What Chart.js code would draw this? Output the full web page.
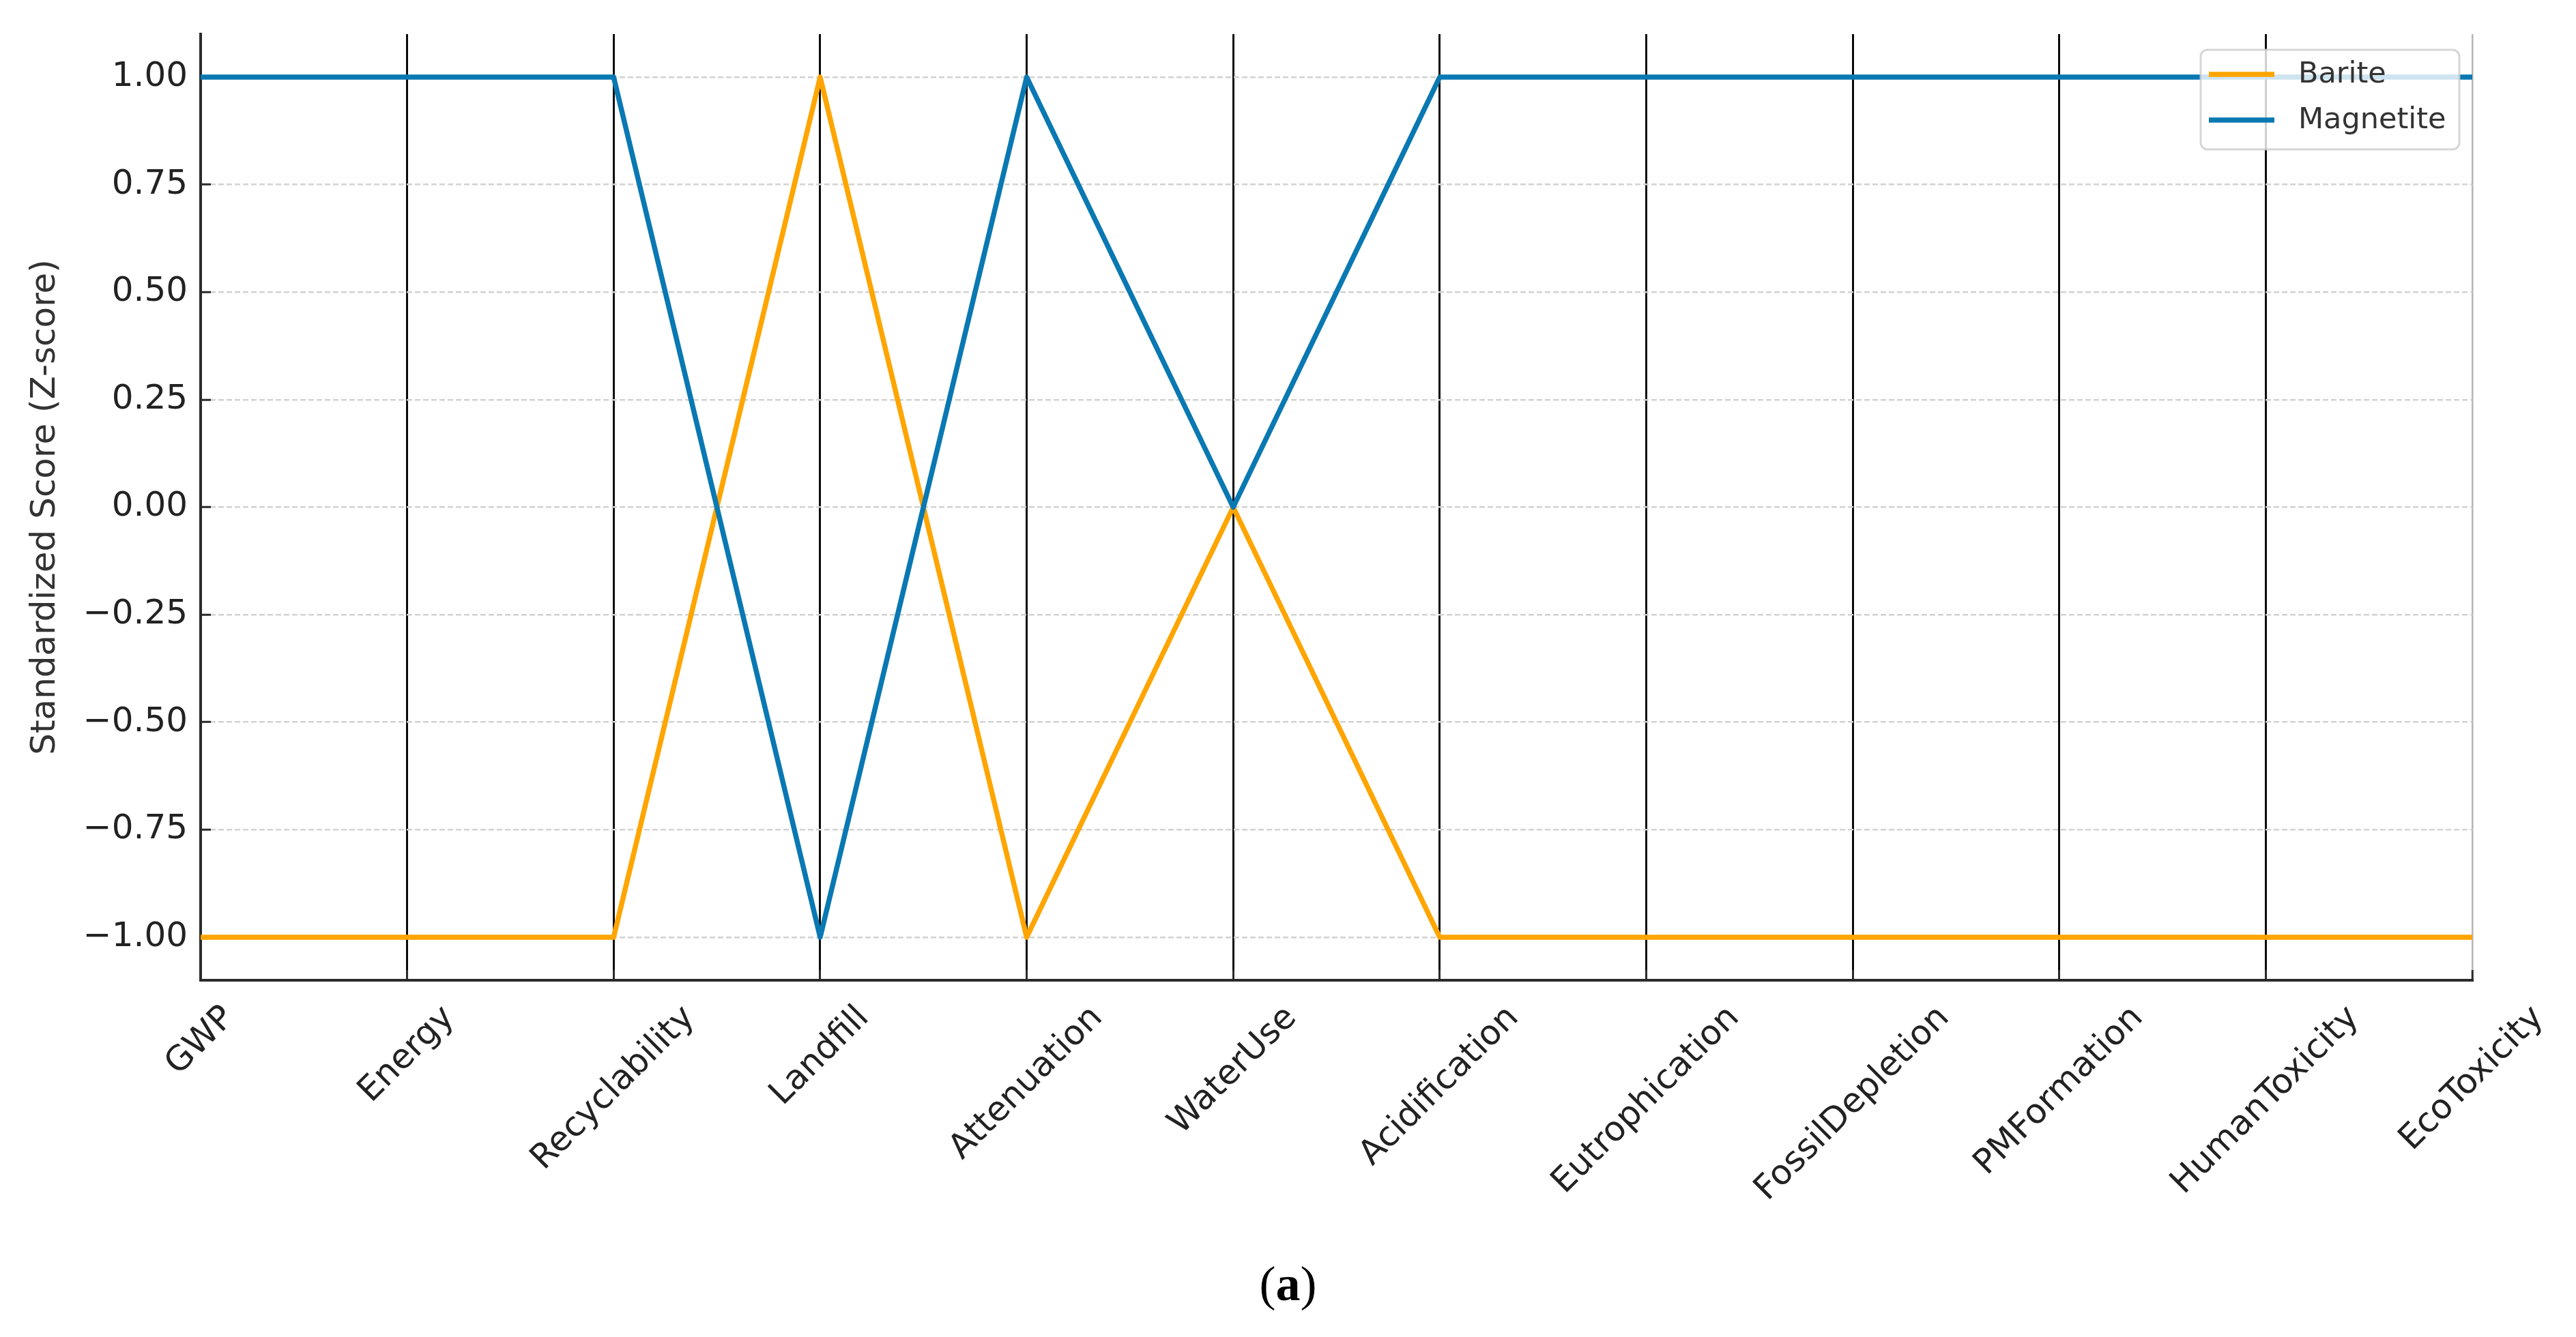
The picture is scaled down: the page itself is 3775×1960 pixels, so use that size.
<!DOCTYPE html>
<html>
<head>
<meta charset="utf-8">
<script src="https://cdn.jsdelivr.net/npm/chart.js@4.4.1/dist/chart.umd.min.js"></script>
<style>
  html, body { margin: 0; padding: 0; background: #fff; }
  #wrap { position: relative; width: 3775px; height: 1960px; }
  #chart { position: absolute; left: 0; top: 0; }
  #caption {
    position: absolute; left: 0; top: 1846px; width: 3775px;
    text-align: center; font-family: 'Liberation Serif', serif;
    font-size: 72px; line-height: 72px; color: #000;
  }
</style>
</head>
<body>
<div id="wrap">
  <canvas id="chart" width="3775" height="1960"></canvas>
  <div id="caption">(<b>a</b>)</div>
</div>
<script>
// ── Data ───────────────────────────────────────────────────────────────────
const CATEGORIES = [
  'GWP', 'Energy', 'Recyclability', 'Landfill', 'Attenuation', 'WaterUse',
  'Acidification', 'Eutrophication', 'FossilDepletion', 'PMFormation',
  'HumanToxicity', 'EcoToxicity',
];
const BARITE    = [-1, -1, -1,  1, -1, 0, -1, -1, -1, -1, -1, -1];
const MAGNETITE = [ 1,  1,  1, -1,  1, 0,  1,  1,  1,  1,  1,  1];
const Y_TICKS   = [-1, -0.75, -0.5, -0.25, 0, 0.25, 0.5, 0.75, 1];
const Y_MIN = -1.1, Y_MAX = 1.1;

const ORANGE = '#FFA500';
const BLUE   = '#0a78b2';
const FONT   = '"DejaVu Sans", sans-serif';
const LEGEND_ORDER = ['Barite', 'Magnetite'];

const fmtTick = v => Number(v).toFixed(2).replace('-', '\u2212');

// ── Rotated x labels, centred on each axis like matplotlib ───────────────
const xLabelPlugin = {
  id: 'xLabels',
  afterDraw(chart) {
    const { ctx, chartArea } = chart;
    const xs = chart.scales.x;
    const size = 50;
    const h = size * 1.16;
    const topY = chartArea.bottom + 27;
    ctx.save();
    ctx.font = `${size}px ${FONT}`;
    ctx.fillStyle = '#222';
    ctx.textAlign = 'center';
    ctx.textBaseline = 'middle';
    CATEGORIES.forEach((label, i) => {
      const w = ctx.measureText(label).width;
      const half = (w + h) * Math.SQRT1_2 / 2;
      ctx.save();
      ctx.translate(xs.getPixelForValue(i), topY + half);
      ctx.rotate(-Math.PI / 4);
      ctx.fillText(label, 0, 0);
      ctx.restore();
    });
    ctx.restore();
  }
};

// ── Framed legend inside the plot, drawn over everything ─────────────────
const boxLegendPlugin = {
  id: 'boxLegend',
  afterDraw(chart) {
    const { ctx, chartArea } = chart;
    const bw = 379, bh = 146;
    const bx = chartArea.right - 19 - bw;
    const by = chartArea.top + 23;
    ctx.save();
    ctx.beginPath();
    ctx.roundRect(bx, by, bw, bh, 10);
    ctx.fillStyle = 'rgba(255,255,255,0.8)';
    ctx.fill();
    ctx.lineWidth = 3;
    ctx.strokeStyle = 'rgba(204,204,204,0.8)';
    ctx.stroke();

    ctx.font = `43px ${FONT}`;
    ctx.textBaseline = 'middle';
    ctx.textAlign = 'left';
    LEGEND_ORDER.forEach((name, r) => {
      const ds = chart.data.datasets.find(d => d.label === name);
      const y = by + 36 + r * 67;
      ctx.beginPath();
      ctx.moveTo(bx + 12, y);
      ctx.lineTo(bx + 108, y);
      ctx.lineWidth = 7.5;
      ctx.strokeStyle = ds.borderColor;
      ctx.stroke();
      ctx.fillStyle = '#333';
      ctx.fillText(name, bx + 143, y + 1);
    });
    ctx.restore();
  }
};

// ── Chart ──────────────────────────────────────────────────────────────────
new Chart(document.getElementById('chart').getContext('2d'), {
  type: 'line',
  data: {
    labels: CATEGORIES,
    datasets: [
      { label: 'Barite', data: BARITE, borderColor: ORANGE, backgroundColor: ORANGE,
        borderWidth: 7.5, pointRadius: 0, tension: 0, fill: false,
        borderJoinStyle: 'round', order: 1 },
      { label: 'Magnetite', data: MAGNETITE, borderColor: BLUE, backgroundColor: BLUE,
        borderWidth: 7.5, pointRadius: 0, tension: 0, fill: false,
        borderJoinStyle: 'round', order: 0 },
    ]
  },
  options: {
    responsive: false,
    devicePixelRatio: 1,
    animation: false,
    events: [],
    layout: { padding: { left: 0, right: 152, top: 50, bottom: 523 } },
    plugins: {
      legend: { display: false },
      tooltip: { enabled: false },
    },
    scales: {
      x: {
        type: 'category',
        offset: false,
        z: 1,
        grid: {
          color: c => c.index === CATEGORIES.length - 1 ? '#b5b5b5' : '#0a0a0a',
          lineWidth: c => c.index === CATEGORIES.length - 1 ? 2.5 : 3,
          drawTicks: true,
          tickLength: -15,
          tickColor: '#2b2b2b',
          tickWidth: 3,
        },
        border: { display: true, color: '#2b2b2b', width: 4 },
        ticks: { display: false, autoSkip: false },
        afterFit: s => { s.height = 0; s.paddingLeft = 0; s.paddingRight = 0; },
      },
      y: {
        type: 'linear',
        min: Y_MIN,
        max: Y_MAX,
        afterBuildTicks: s => { s.ticks = Y_TICKS.map(v => ({ value: v })); },
        grid: {
          color: '#d2d2d2',
          lineWidth: 2.5,
          drawTicks: true,
          tickLength: -15,
          tickColor: '#2b2b2b',
          tickWidth: 3,
        },
        border: { display: true, color: '#2b2b2b', width: 4, dash: [8, 4] },
        ticks: {
          padding: 34,
          color: '#222',
          font: { family: FONT, size: 50 },
          callback: v => fmtTick(v),
        },
        title: {
          display: true,
          text: 'Standardized Score (Z-score)',
          color: '#333',
          font: { family: FONT, size: 50 },
          padding: { top: 37, bottom: 0 },
        },
        afterFit: s => { s.width = 294; s.paddingTop = 0; s.paddingBottom = 0; },
      }
    }
  },
  plugins: [xLabelPlugin, boxLegendPlugin]
});
</script>
</body>
</html>
